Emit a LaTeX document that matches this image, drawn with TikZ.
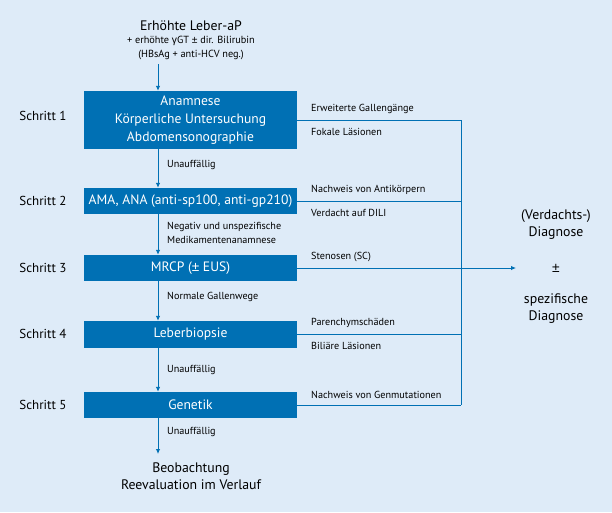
\documentclass[tikz,border=0pt]{standalone}
\usepackage{fontspec}
\setmainfont{PT Sans}
\newfontfamily\greekfont{Liberation Sans}
\usetikzlibrary{arrows.meta}
\usetikzlibrary{positioning}
\definecolor{mbg}{RGB}{222, 235, 248}
\definecolor{mblue}{RGB}{0, 112, 180}
\newcommand{\plusminus}{{\greekfont ±}}
\tikzset{stepbox/.style = {fill = mblue, text = white, minimum width = 213pt, inner sep = 0,
    align = center, font = \fontsize{13.6}{18}\selectfont}}
\tikzset{flow/.style = {mblue, line width = 0.9pt, -{Latex[length = 5pt, width = 4.5pt]}}}
\tikzset{sideline/.style = {mblue, line width = 0.9pt}}
\tikzset{small/.style = {anchor = west, inner sep = 0, font = \fontsize{10.2}{14}\selectfont}}
\tikzset{stepname/.style = {inner sep = 0, font = \fontsize{13}{15}\selectfont}}
\tikzset{plain/.style = {inner sep = 0, align = center, font = \fontsize{13.8}{17}\selectfont}}

\begin{document}
\begin{tikzpicture}[x = 1pt, y = -1pt]
  \fill [mbg] (0, 0) rectangle (612, 512);
  \useasboundingbox (0, 0) rectangle (612, 512);

  % start
  \node [plain] (start) at (191, 26) {Erhöhte Leber-aP};
  \node [inner sep = 0, align = center, font = \fontsize{10.3}{13.5}\selectfont] (startinfo) at (191, 48)
    {+ erhöhte {\greekfont γ}GT \plusminus{} dir. Bilirubin\\(HBsAg + anti-HCV neg.)};
  \coordinate (top) at (158, 64);

  % steps
  \node [stepbox, minimum height = 58pt] (s1) at (190.5, 120)
    {Anamnese\\Körperliche Untersuchung\\Abdomensonographie};
  \node [stepbox, minimum height = 26pt] (s2) at (190.5, 201) {AMA, ANA (anti-sp100, anti-gp210)};
  \node [stepbox, minimum height = 26pt] (s3) at (190.5, 268) {MRCP (\plusminus{} EUS)};
  \node [stepbox, minimum height = 27pt] (s4) at (190.5, 334.5) {Leberbiopsie};
  \node [stepbox, minimum height = 26pt] (s5) at (190.5, 405) {Genetik};

  \node [stepname] (n1) at (43, 116) {Schritt 1};
  \node [stepname] (n2) at (43, 201) {Schritt 2};
  \node [stepname] (n3) at (43, 268) {Schritt 3};
  \node [stepname] (n4) at (43, 334) {Schritt 4};
  \node [stepname] (n5) at (43, 405) {Schritt 5};

  % end
  \node [plain] (finish) at (191, 476) {Beobachtung\\Reevaluation im Verlauf};
  \coordinate (bottom) at (158, 454);

  % diagnosis
  \node [plain] (diag) at (556, 224.5) {(Verdachts-)\\Diagnose};
  \node [plain] (pm) at (556, 268) {\plusminus};
  \node [plain] (spec) at (556, 309) {spezifische\\Diagnose};
  \coordinate (tip) at (516, 268);

  % arrows down
  \draw [flow] (top) -- (top |- s1.north);
  \draw [flow] (s1.south -| top) -- (s2.north -| top);
  \draw [flow] (s2.south -| top) -- (s3.north -| top);
  \draw [flow] (s3.south -| top) -- (s4.north -| top);
  \draw [flow] (s4.south -| top) -- (s5.north -| top);
  \draw [flow] (s5.south -| top) -- (bottom);

  \node [small] (l1) at (167, 165) {Unauffällig};
  \node [small, align = left] (l2) at (167, 233) {Negativ und unspezifische\\Medikamentenanamnese};
  \node [small] (l3) at (167, 297) {Normale Gallenwege};
  \node [small] (l4) at (167, 370) {Unauffällig};
  \node [small] (l5) at (167, 432) {Unauffällig};

  % lines to the right
  \coordinate (rtop) at (461, 120);
  \coordinate (rbot) at (461, 405);
  \draw [sideline] (rtop) -- (rbot);
  \draw [sideline] (s1.east) -- (s1.east -| rtop);
  \draw [sideline] (s2.east) -- (s2.east -| rtop);
  \draw [sideline] (s4.east) -- (s4.east -| rtop);
  \draw [sideline] (s5.east) -- (rbot);
  \draw [flow] (s3.east) -- (tip);

  \node [small] (r1) at (311, 109) {Erweiterte Gallengänge};
  \node [small] (r2) at (311, 132) {Fokale Läsionen};
  \node [small] (r3) at (311, 190) {Nachweis von Antikörpern};
  \node [small] (r4) at (311, 213) {Verdacht auf DILI};
  \node [small] (r5) at (311, 257) {Stenosen (SC)};
  \node [small] (r6) at (311, 323) {Parenchymschäden};
  \node [small] (r7) at (311, 346) {Biliäre Läsionen};
  \node [small] (r8) at (311, 395) {Nachweis von Genmutationen};
\end{tikzpicture}
\end{document}
